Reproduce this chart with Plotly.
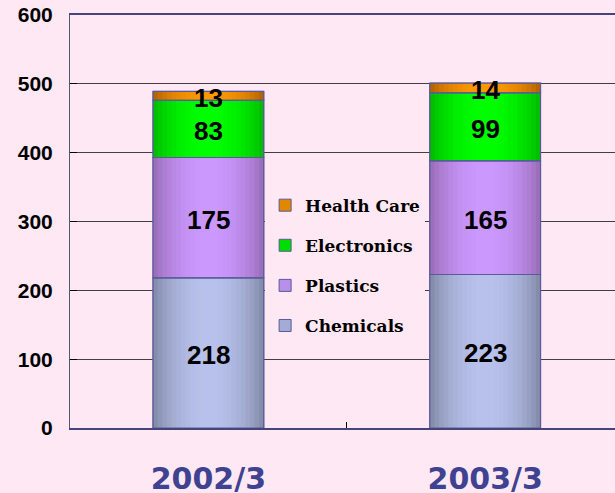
import numpy as np
import plotly.graph_objects as go

# ---- data ----
categories = ["2002/3", "2003/3"]
chemicals = [218, 223]
plastics = [175, 165]
electronics = [83, 99]
health_care = [13, 14]
y_ticks = [0, 100, 200, 300, 400, 500, 600]

series_names = ["Chemicals", "Plastics", "Electronics", "Health Care"]
series_values = [chemicals, plastics, electronics, health_care]

# ---- styles ----
dark_cols = {"Chemicals": (125, 132, 160), "Plastics": (148, 104, 176),
             "Electronics": (0, 180, 0), "Health Care": (168, 92, 0)}
light_cols = {"Chemicals": (184, 194, 236), "Plastics": (204, 153, 255),
              "Electronics": (0, 255, 0), "Health Care": (255, 153, 0)}
legend_cols = {"Chemicals": "#a4acd6", "Plastics": "#b890ea",
               "Electronics": "#00dd00", "Health Care": "#e08800"}
BG = "#fde8f3"
EDGE = "#5a5a9a"
W = 0.40
N = 24

# cumulative bases
bases = {}
running = np.zeros(len(categories))
for name, vals in zip(series_names, series_values):
    bases[name] = running.copy()
    running = running + np.array(vals)

fig = go.Figure()

# legend-carrying traces (drawn underneath)
for name, vals in reversed(list(zip(series_names, series_values))):
    fig.add_trace(go.Bar(
        x=categories, y=vals, base=bases[name], width=W, name=name,
        legendgroup=name,
        marker=dict(color=legend_cols[name], line=dict(color=EDGE, width=1)),
        hoverinfo="skip"))

# gradient strips
t = (np.arange(N) + 0.5) / N
prof = np.sin(np.pi * t) ** 0.7
for name, vals in zip(series_names, series_values):
    d = np.array(dark_cols[name]); l = np.array(light_cols[name])
    for k in range(N):
        c = d + (l - d) * prof[k]
        fig.add_trace(go.Bar(
            x=categories, y=vals, base=bases[name],
            offset=-W / 2 + k * W / N, width=W / N * (1.15 if k < N - 1 else 1.0),
            marker=dict(color="rgb(%d,%d,%d)" % tuple(c.astype(int)), line=dict(width=0)),
            showlegend=False, hoverinfo="skip"))

# outlines on top
for name, vals in zip(series_names, series_values):
    fig.add_trace(go.Bar(
        x=categories, y=vals, base=bases[name], width=W,
        marker=dict(color="rgba(0,0,0,0)", line=dict(color=EDGE, width=1.2)),
        showlegend=False, hoverinfo="skip"))

# value labels
for name, vals in zip(series_names, series_values):
    for cat, b, v in zip(categories, bases[name], vals):
        fig.add_annotation(
            x=cat, y=b + v / 2, text=str(v), showarrow=False,
            xanchor="center", yanchor="middle", yshift=-2,
            font=dict(family="Liberation Sans", size=26, color="black", weight="bold"))

fig.update_layout(
    width=615, height=493,
    margin=dict(l=70, r=0, t=15, b=65, autoexpand=False),
    paper_bgcolor=BG, plot_bgcolor=BG,
    barmode="overlay",
    legend=dict(x=0.358, y=0.582, xanchor="left", yanchor="top",
                bgcolor=BG, borderwidth=0, traceorder="grouped", tracegroupgap=15,
                font=dict(family="DejaVu Serif", size=17, color="black", weight="bold")),
    xaxis=dict(type="category", range=[-0.5, 1.469], showgrid=False,
               showline=True, linecolor="#45457a", linewidth=1.5, mirror=True,
               ticks="inside", ticklen=6, tickcolor="black", tickson="boundaries",
               ticklabelstandoff=23,
               tickfont=dict(family="DejaVu Sans", size=30, color="#3f4290", weight="bold")),
    yaxis=dict(range=[0, 600], tickvals=y_ticks, showgrid=True, gridcolor="#404040",
               gridwidth=1, showline=True, linecolor="#555570", linewidth=1,
               ticks="inside", ticklen=7, tickcolor="black", zeroline=False,
               ticklabelstandoff=12,
               tickfont=dict(family="Liberation Sans", size=21, color="black", weight="bold")),
)

fig.write_html("out.html", config={"displayModeBar": False},
               post_script="document.body.style.margin='0';document.body.style.overflow='hidden';")
